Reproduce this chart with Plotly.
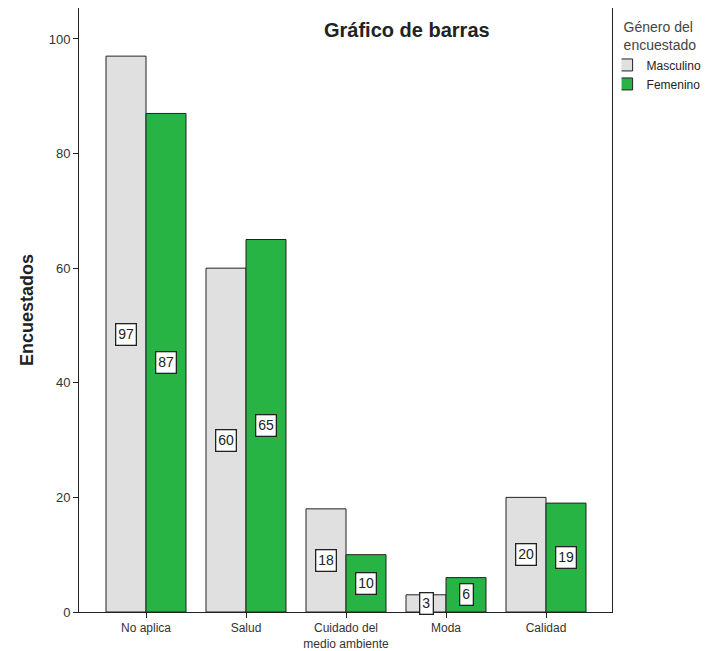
import plotly.graph_objects as go

categories = ["No aplica", "Salud", "Cuidado del<br>medio ambiente", "Moda", "Calidad"]
masculino = [97, 60, 18, 3, 20]
femenino = [87, 65, 10, 6, 19]
y_ticks = [0, 20, 40, 60, 80, 100]

FONT = "Liberation Sans, Arial, sans-serif"

fig = go.Figure()
fig.add_trace(go.Bar(name="Masculino", x=categories, y=masculino,
                     marker=dict(color="#E0E0E0", line=dict(color="#222222", width=1))))
fig.add_trace(go.Bar(name="Femenino", x=categories, y=femenino,
                     marker=dict(color="#28B445", line=dict(color="#222222", width=1))))

anns = []
for cat, m, f in zip(categories, masculino, femenino):
    for val, shift in ((m, -20), (f, 20)):
        anns.append(dict(x=cat, y=val / 2, xref="x", yref="y", xshift=shift,
                         text=str(val), showarrow=False,
                         font=dict(family=FONT, size=14, color="#222222"),
                         bgcolor="white", bordercolor="#222222", borderwidth=1.3, borderpad=2))
anns.append(dict(x=0.615, y=0.964, xref="paper", yref="paper", text="<b>Gráfico de barras</b>",
                 showarrow=False, font=dict(family=FONT, size=20, color="#222222"),
                 xanchor="center", yanchor="middle"))

fig.update_layout(
    width=701, height=643,
    margin=dict(l=71, r=97, t=0, b=39),
    paper_bgcolor="white", plot_bgcolor="white",
    barmode="group", bargap=0.2, bargroupgap=0,
    font=dict(family=FONT, size=13, color="#333333"),
    annotations=anns,
    showlegend=True,
    legend=dict(x=1.018, y=0.99, xanchor="left", yanchor="top",
                title=dict(text="Género del<br>encuestado", font=dict(size=14, color="#444444")),
                font=dict(size=12, color="#222222"), tracegroupgap=0,
                indentation=-15, itemwidth=30, bgcolor="rgba(0,0,0,0)"),
    xaxis=dict(range=[-0.67, 4.66], showline=True, linecolor="#222222", linewidth=1,
               mirror=True, ticks="outside", ticklen=5, tickcolor="#222222",
               tickfont=dict(size=12, color="#333333")),
    yaxis=dict(range=[0, 105.4], tickvals=y_ticks, showline=True, linecolor="#222222",
               linewidth=1, mirror=True, ticks="outside", ticklen=5, tickcolor="#222222",
               showgrid=False, zeroline=False,
               tickfont=dict(size=13, color="#333333"),
               title=dict(text="<b>Encuestados</b>", font=dict(size=18, color="#222222"),
                          standoff=10)),
)

fig.write_html("out.html")
